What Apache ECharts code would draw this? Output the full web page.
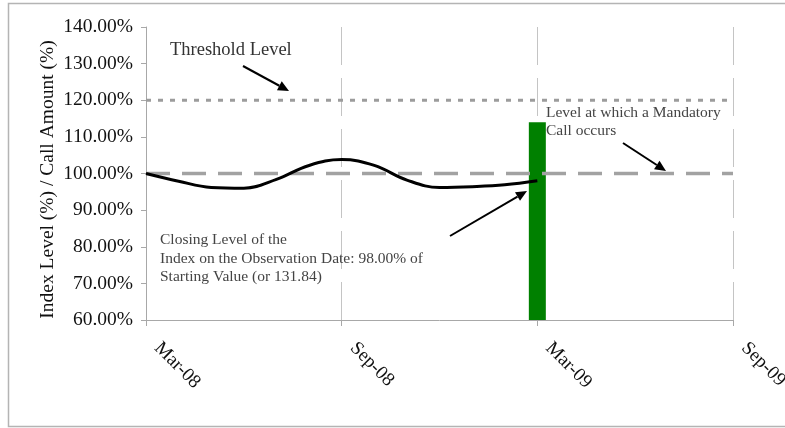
<!DOCTYPE html>
<html>
<head>
<meta charset="utf-8">
<script src="https://cdn.jsdelivr.net/npm/echarts@6/dist/echarts.min.js"></script>
<style>
  html, body { margin: 0; padding: 0; background: #fff; }
  #chart { width: 785px; height: 428px; }
</style>
</head>
<body>
<div id="chart"></div>
<script>
// Months elapsed since Mar-08 and the index level (% of starting value)
const obsMonth = [0, 1, 2, 3, 4, 5, 6, 7, 8, 9, 10, 11, 12];
const indexLevel = [100.0, 97.9, 96.2, 96.0, 98.4, 102.2, 103.8, 102.2, 98.2, 96.2, 96.4, 96.9, 98.0];

// Call amount on the observation date
const callMonth = [12];
const callAmount = [114.0];

// Reference levels
const thresholdLevel = 120;
const mandatoryCallLevel = 100;

// Axis ticks
const tickLabels = ['Mar-08', 'Sep-08', 'Mar-09', 'Sep-09'];
const monthSpan = [0, 18];

const SERIF = '"Liberation Serif", "Times New Roman", serif';

function arrow(x1, y1, x2, y2) {
  const ang = Math.atan2(y2 - y1, x2 - x1);
  const len = 11, half = 5;
  const bx = x2 - len * Math.cos(ang), by = y2 - len * Math.sin(ang);
  const px = -Math.sin(ang) * half, py = Math.cos(ang) * half;
  return {
    type: 'group',
    children: [
      { type: 'line', shape: { x1: x1, y1: y1, x2: bx, y2: by },
        style: { stroke: '#000', lineWidth: 2 } },
      { type: 'polygon', shape: { points: [[x2, y2], [bx + px, by + py], [bx - px, by - py]] },
        style: { fill: '#000' } }
    ]
  };
}

const chart = echarts.init(document.getElementById('chart'), null, { renderer: 'canvas' });

chart.setOption({
  animation: false,
  backgroundColor: '#fff',
  grid: { left: 146, right: 52, top: 27, bottom: 108, containLabel: false, outerBoundsMode: 'none' },
  xAxis: {
    type: 'value',
    min: monthSpan[0],
    max: monthSpan[1],
    interval: 6,
    axisLine: { show: true, lineStyle: { color: '#a8a8a8', width: 1 } },
    axisTick: { show: true, length: 6, lineStyle: { color: '#a8a8a8' } },
    splitLine: { show: true, lineStyle: { color: '#c4c4c4', width: 1, type: [38, 13] } },
    axisLabel: {
      rotate: -45,
      margin: 14,
      padding: [0, 0, 0, 16],
      fontFamily: SERIF,
      fontSize: 19,
      color: '#111',
      formatter: v => tickLabels[Math.round(v / 6)]
    }
  },
  yAxis: {
    type: 'value',
    min: 60,
    max: 140,
    interval: 10,
    name: 'Index Level (%) / Call Amount (%)',
    nameLocation: 'middle',
    nameGap: 88,
    nameMoveOverlap: false,
    nameTextStyle: { fontFamily: SERIF, fontSize: 19.5, color: '#111', padding: [0, 12, 0, 0] },
    axisLine: { show: true, lineStyle: { color: '#a8a8a8', width: 1 } },
    axisTick: { show: true, length: 5, lineStyle: { color: '#a8a8a8' } },
    splitLine: { show: false },
    axisLabel: {
      margin: 13,
      fontFamily: SERIF,
      fontSize: 19.5,
      color: '#111',
      formatter: v => v.toFixed(2) + '%'
    }
  },
  series: [
    {
      name: 'Call Amount',
      type: 'bar',
      barWidth: 17,
      itemStyle: { color: '#008000' },
      z: 1,
      data: callMonth.map((m, i) => [m, callAmount[i]])
    },
    {
      name: 'Threshold Level',
      type: 'line',
      symbol: 'none',
      z: 3,
      lineStyle: { color: '#9c9c9c', width: 3, type: [5, 7] },
      data: monthSpan.map(m => [m, thresholdLevel])
    },
    {
      name: 'Mandatory Call Level',
      type: 'line',
      symbol: 'none',
      z: 3,
      lineStyle: { color: '#a2a2a2', width: 3.5, type: [24, 12] },
      data: monthSpan.map(m => [m, mandatoryCallLevel])
    },
    {
      name: 'Index Level',
      type: 'line',
      symbol: 'none',
      smooth: 0.4,
      z: 4,
      lineStyle: { color: '#000', width: 3 },
      data: obsMonth.map((m, i) => [m, indexLevel[i]])
    }
  ],
  graphic: [
    { type: 'rect', shape: { x: 8.5, y: 3.5, width: 790, height: 423 },
      style: { fill: 'none', stroke: '#b4b4b4', lineWidth: 1.5 }, z: 0 },
    { type: 'text', left: 170, top: 41, z: 10,
      style: { text: 'Threshold Level', font: '18.5px ' + SERIF, fill: '#333' } },
    arrow(243, 66, 289, 91),
    { type: 'text', left: 546, top: 104, z: 10,
      style: { text: 'Level at which a Mandatory\nCall occurs', font: '15.5px ' + SERIF,
               lineHeight: 18, fill: '#444' } },
    arrow(623, 143, 666, 171),
    { type: 'text', left: 160, top: 231, z: 10,
      style: { text: 'Closing Level of the\nIndex on the Observation Date: 98.00% of\nStarting Value (or 131.84)',
               font: '15.5px ' + SERIF, lineHeight: 18.5, fill: '#444' } },
    arrow(450, 236, 527, 191)
  ]
});
</script>
</body>
</html>
